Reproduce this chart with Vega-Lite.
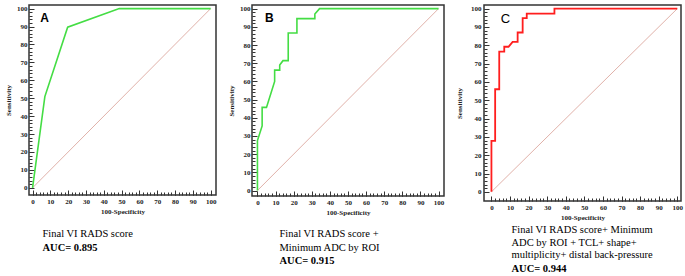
{
  "$schema": "https://vega.github.io/schema/vega-lite/v6.json",
  "padding": {"left": 3, "top": 3, "right": 0, "bottom": 0},
  "background": "white",
  "spacing": 9,
  "config": {
    "view": {"stroke": "#333", "strokeWidth": 1.5},
    "axis": {"grid": false, "domain": false, "tickColor": "#333", "tickWidth": 1,
      "labelFont": "Liberation Serif", "labelFontWeight": "bold", "labelFontSize": 7, "labelColor": "#222",
      "titleFont": "Liberation Serif", "titleFontWeight": "bold", "titleFontSize": 7, "titleColor": "#222"},
    "title": {"font": "Liberation Serif", "fontSize": 10.5, "fontWeight": "normal", "color": "black",
      "subtitleFont": "Liberation Serif", "subtitleFontSize": 10.5, "subtitleFontWeight": "bold", "subtitleColor": "black",
      "lineHeight": 13.5, "subtitleLineHeight": 13.5, "subtitlePadding": 0, "orient": "bottom", "anchor": "start", "offset": 15}
  },
  "datasets": {
    "ref": [{"x": 0, "y": 0}, {"x": 100, "y": 100}],
    "roc": [
      {"panel": "A", "i": 0, "x": 0, "y": 0},
      {"panel": "A", "i": 1, "x": 6.9, "y": 50.9},
      {"panel": "A", "i": 2, "x": 19.7, "y": 89.6},
      {"panel": "A", "i": 3, "x": 48.7, "y": 100},
      {"panel": "A", "i": 4, "x": 100, "y": 100},
      {"panel": "B", "i": 0, "x": 0, "y": 0},
      {"panel": "B", "i": 1, "x": 0, "y": 27.5},
      {"panel": "B", "i": 2, "x": 2.6, "y": 35.5},
      {"panel": "B", "i": 3, "x": 2.6, "y": 45.7},
      {"panel": "B", "i": 4, "x": 5, "y": 45.7},
      {"panel": "B", "i": 5, "x": 9.5, "y": 60},
      {"panel": "B", "i": 6, "x": 9.5, "y": 66.2},
      {"panel": "B", "i": 7, "x": 12.3, "y": 66.2},
      {"panel": "B", "i": 8, "x": 12.3, "y": 69},
      {"panel": "B", "i": 9, "x": 14.1, "y": 71.4},
      {"panel": "B", "i": 10, "x": 17, "y": 71.4},
      {"panel": "B", "i": 11, "x": 17, "y": 86.6},
      {"panel": "B", "i": 12, "x": 21.8, "y": 86.6},
      {"panel": "B", "i": 13, "x": 21.8, "y": 94.5},
      {"panel": "B", "i": 14, "x": 31.7, "y": 94.5},
      {"panel": "B", "i": 15, "x": 31.7, "y": 97},
      {"panel": "B", "i": 16, "x": 34.3, "y": 100},
      {"panel": "B", "i": 17, "x": 100, "y": 100},
      {"panel": "C", "i": 0, "x": 0, "y": 0},
      {"panel": "C", "i": 1, "x": 0, "y": 27.8},
      {"panel": "C", "i": 2, "x": 2, "y": 27.8},
      {"panel": "C", "i": 3, "x": 2, "y": 56},
      {"panel": "C", "i": 4, "x": 4.2, "y": 56},
      {"panel": "C", "i": 5, "x": 4.2, "y": 76.5},
      {"panel": "C", "i": 6, "x": 6.9, "y": 76.5},
      {"panel": "C", "i": 7, "x": 6.9, "y": 79.2},
      {"panel": "C", "i": 8, "x": 9.2, "y": 79.2},
      {"panel": "C", "i": 9, "x": 11.4, "y": 81.9},
      {"panel": "C", "i": 10, "x": 14.1, "y": 81.9},
      {"panel": "C", "i": 11, "x": 14.1, "y": 87},
      {"panel": "C", "i": 12, "x": 16.8, "y": 87},
      {"panel": "C", "i": 13, "x": 16.8, "y": 94.8},
      {"panel": "C", "i": 14, "x": 19, "y": 94.8},
      {"panel": "C", "i": 15, "x": 19, "y": 97.3},
      {"panel": "C", "i": 16, "x": 33.9, "y": 97.3},
      {"panel": "C", "i": 17, "x": 33.9, "y": 100},
      {"panel": "C", "i": 18, "x": 100, "y": 100}
    ],
    "letters": [{"panel": "A", "x": 6.7, "y": 95}, {"panel": "B", "x": 6.6, "y": 95}, {"panel": "C", "x": 7.6, "y": 94.6}]
  },
  "hconcat": [
    {
      "width": 187, "height": 190,
      "title": {"text": ["Final VI RADS score"], "subtitle": "AUC= 0.895", "dx": 38},
      "resolve": {"axis": {"x": "independent", "y": "independent"}},
      "layer": [
        {"data": {"name": "ref"}, "mark": {"type": "line", "color": "#dca89f", "strokeWidth": 0.9},
         "encoding": {
           "x": {"field": "x", "type": "quantitative", "scale": {"domain": [-2, 103], "nice": false, "zero": false},
             "axis": {"orient": "bottom", "values": [0,10,20,30,40,50,60,70,80,90,100], "tickSize": -5, "labelPadding": 7, "title": "100-Specificity", "titlePadding": 3}},
           "y": {"field": "y", "type": "quantitative", "scale": {"domain": [-4, 102], "nice": false, "zero": false},
             "axis": {"orient": "left", "values": [0,10,20,30,40,50,60,70,80,90,100], "tickSize": -5, "labelPadding": 7, "title": "Sensitivity", "titlePadding": 5}}}},
        {"data": {"name": "roc"}, "transform": [{"filter": "datum.panel == 'A'"}],
         "mark": {"type": "line", "color": "#44dd44", "strokeWidth": 1.6},
         "encoding": {
           "x": {"field": "x", "type": "quantitative", "scale": {"domain": [-2, 103], "nice": false, "zero": false},
             "axis": {"orient": "bottom", "values": [0,2,4,6,8,10,12,14,16,18,20,22,24,26,28,30,32,34,36,38,40,42,44,46,48,50,52,54,56,58,60,62,64,66,68,70,72,74,76,78,80,82,84,86,88,90,92,94,96,98,100], "tickSize": -3, "labels": false, "title": null}},
           "y": {"field": "y", "type": "quantitative", "scale": {"domain": [-4, 102], "nice": false, "zero": false},
             "axis": {"orient": "left", "values": [0,2,4,6,8,10,12,14,16,18,20,22,24,26,28,30,32,34,36,38,40,42,44,46,48,50,52,54,56,58,60,62,64,66,68,70,72,74,76,78,80,82,84,86,88,90,92,94,96,98,100], "tickSize": -3, "labels": false, "title": null}},
           "order": {"field": "i", "type": "quantitative"}}},
        {"data": {"name": "letters"}, "transform": [{"filter": "datum.panel == 'A'"}],
         "mark": {"type": "text", "font": "Liberation Sans", "fontWeight": "bold", "fontSize": 12, "color": "black"},
         "encoding": {"x": {"field": "x", "type": "quantitative", "axis": null}, "y": {"field": "y", "type": "quantitative", "axis": null}, "text": {"field": "panel"}}}
      ]
    },
    {
      "width": 192, "height": 191,
      "title": {"text": ["Final VI RADS score +", "Minimum ADC by ROI"], "subtitle": "AUC= 0.915", "dx": 52, "offset": 14},
      "resolve": {"axis": {"x": "independent", "y": "independent"}},
      "layer": [
        {"data": {"name": "ref"}, "mark": {"type": "line", "color": "#dca89f", "strokeWidth": 0.9},
         "encoding": {
           "x": {"field": "x", "type": "quantitative", "scale": {"domain": [-3, 103], "nice": false, "zero": false},
             "axis": {"orient": "bottom", "values": [0,10,20,30,40,50,60,70,80,90,100], "tickSize": -5, "labelPadding": 7, "title": "100-Specificity", "titlePadding": 3}},
           "y": {"field": "y", "type": "quantitative", "scale": {"domain": [-3, 102], "nice": false, "zero": false},
             "axis": {"orient": "left", "values": [0,10,20,30,40,50,60,70,80,90,100], "tickSize": -5, "labelPadding": 7, "title": "Sensitivity", "titlePadding": 5}}}},
        {"data": {"name": "roc"}, "transform": [{"filter": "datum.panel == 'B'"}],
         "mark": {"type": "line", "color": "#44dd44", "strokeWidth": 1.6},
         "encoding": {
           "x": {"field": "x", "type": "quantitative", "scale": {"domain": [-3, 103], "nice": false, "zero": false},
             "axis": {"orient": "bottom", "values": [0,2,4,6,8,10,12,14,16,18,20,22,24,26,28,30,32,34,36,38,40,42,44,46,48,50,52,54,56,58,60,62,64,66,68,70,72,74,76,78,80,82,84,86,88,90,92,94,96,98,100], "tickSize": -3, "labels": false, "title": null}},
           "y": {"field": "y", "type": "quantitative", "scale": {"domain": [-3, 102], "nice": false, "zero": false},
             "axis": {"orient": "left", "values": [0,2,4,6,8,10,12,14,16,18,20,22,24,26,28,30,32,34,36,38,40,42,44,46,48,50,52,54,56,58,60,62,64,66,68,70,72,74,76,78,80,82,84,86,88,90,92,94,96,98,100], "tickSize": -3, "labels": false, "title": null}},
           "order": {"field": "i", "type": "quantitative"}}},
        {"data": {"name": "letters"}, "transform": [{"filter": "datum.panel == 'B'"}],
         "mark": {"type": "text", "font": "Liberation Sans", "fontWeight": "bold", "fontSize": 12, "color": "black"},
         "encoding": {"x": {"field": "x", "type": "quantitative", "axis": null}, "y": {"field": "y", "type": "quantitative", "axis": null}, "text": {"field": "panel"}}}
      ]
    },
    {
      "width": 197, "height": 196,
      "title": {"text": ["Final VI RADS score+ Minimum", "ADC by ROI + TCL+ shape+", "multiplicity+ distal back-pressure"], "subtitle": "AUC= 0.944", "dx": 56, "offset": 5, "lineHeight": 12.5, "subtitleLineHeight": 12.5},
      "resolve": {"axis": {"x": "independent", "y": "independent"}},
      "layer": [
        {"data": {"name": "ref"}, "mark": {"type": "line", "color": "#dca89f", "strokeWidth": 0.9},
         "encoding": {
           "x": {"field": "x", "type": "quantitative", "scale": {"domain": [-4, 102], "nice": false, "zero": false},
             "axis": {"orient": "bottom", "values": [0,10,20,30,40,50,60,70,80,90,100], "tickSize": -5, "labelPadding": 7, "title": "100-Specificity", "titlePadding": 3}},
           "y": {"field": "y", "type": "quantitative", "scale": {"domain": [-5, 102], "nice": false, "zero": false},
             "axis": {"orient": "left", "values": [0,10,20,30,40,50,60,70,80,90,100], "tickSize": -5, "labelPadding": 8, "title": "Sensitivity", "titlePadding": 8}}}},
        {"data": {"name": "roc"}, "transform": [{"filter": "datum.panel == 'C'"}],
         "mark": {"type": "line", "color": "#ff1e1e", "strokeWidth": 1.8},
         "encoding": {
           "x": {"field": "x", "type": "quantitative", "scale": {"domain": [-4, 102], "nice": false, "zero": false},
             "axis": {"orient": "bottom", "values": [0,2,4,6,8,10,12,14,16,18,20,22,24,26,28,30,32,34,36,38,40,42,44,46,48,50,52,54,56,58,60,62,64,66,68,70,72,74,76,78,80,82,84,86,88,90,92,94,96,98,100], "tickSize": -3, "labels": false, "title": null}},
           "y": {"field": "y", "type": "quantitative", "scale": {"domain": [-5, 102], "nice": false, "zero": false},
             "axis": {"orient": "left", "values": [0,2,4,6,8,10,12,14,16,18,20,22,24,26,28,30,32,34,36,38,40,42,44,46,48,50,52,54,56,58,60,62,64,66,68,70,72,74,76,78,80,82,84,86,88,90,92,94,96,98,100], "tickSize": -3, "labels": false, "title": null}},
           "order": {"field": "i", "type": "quantitative"}}},
        {"data": {"name": "letters"}, "transform": [{"filter": "datum.panel == 'C'"}],
         "mark": {"type": "text", "font": "Liberation Sans", "fontWeight": "normal", "fontSize": 13, "color": "black"},
         "encoding": {"x": {"field": "x", "type": "quantitative", "axis": null}, "y": {"field": "y", "type": "quantitative", "axis": null}, "text": {"field": "panel"}}}
      ]
    }
  ]
}
